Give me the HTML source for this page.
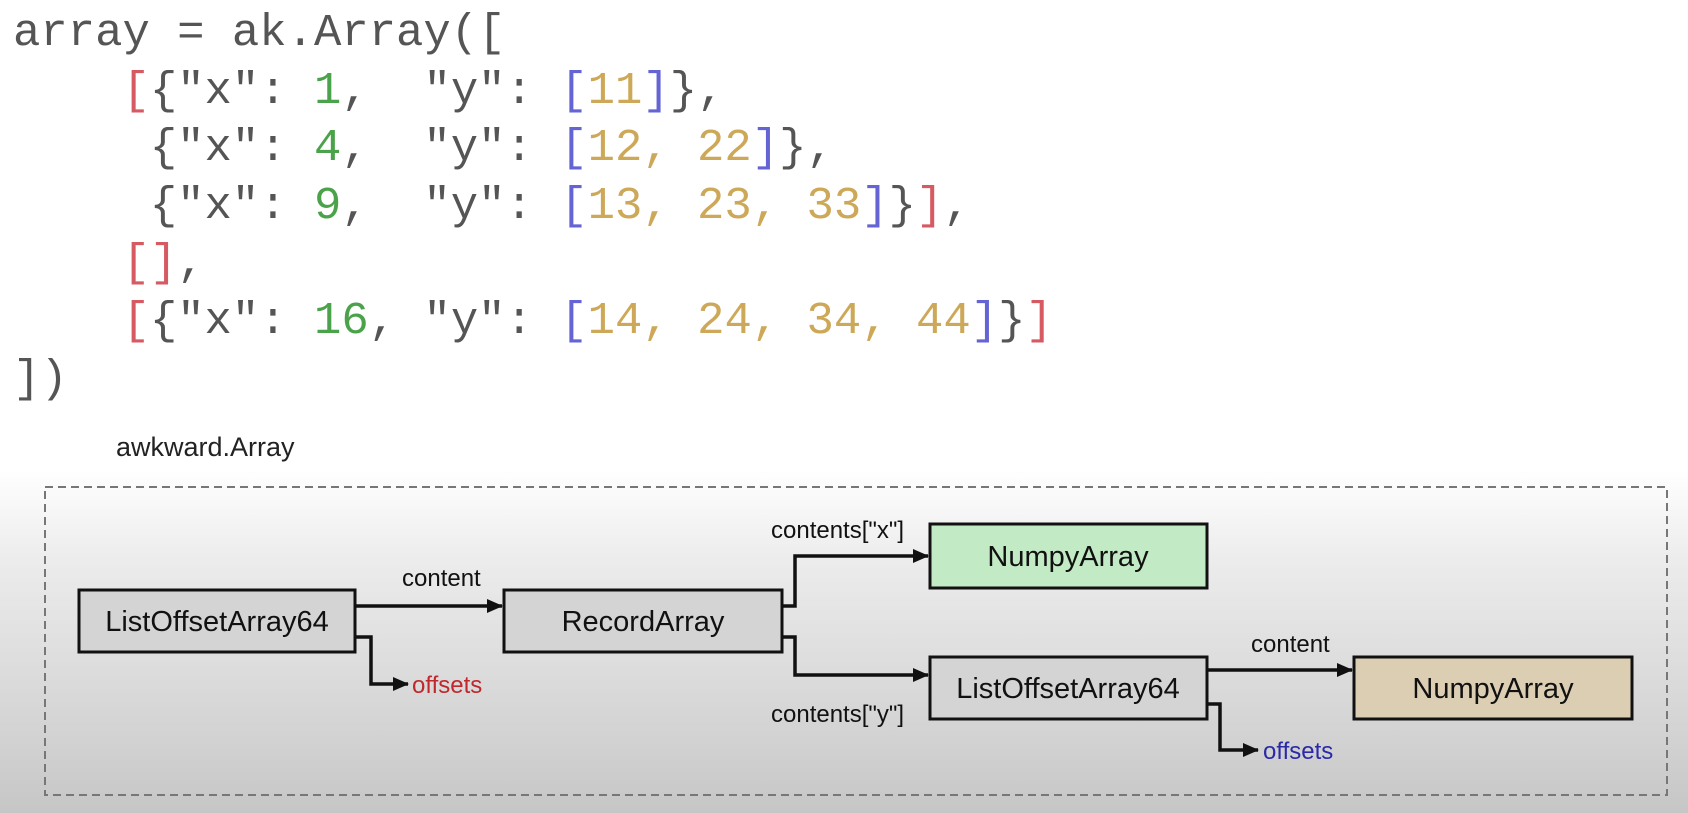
<!DOCTYPE html>
<html><head><meta charset="utf-8"><style>
html,body{margin:0;padding:0;}
body{width:1688px;height:813px;overflow:hidden;position:relative;
background:linear-gradient(to bottom,#fff 0px,#fff 470px,#ececec 560px,#d2d2d2 740px,#c6c6c6 813px);
font-family:"Liberation Sans",sans-serif;}
.code{position:absolute;left:13px;top:5px;margin:0;font-family:"Liberation Mono",monospace;font-size:45.6px;line-height:57.6px;color:#555;white-space:pre;}
.r{color:#d65a62}.g{color:#4aa24a}.b{color:#6464d4}.o{color:#cda858}
.lbl{position:absolute;font-size:27px;color:#222;}
</style></head><body>
<pre class="code">array = ak.Array([
    <span class="r">[</span>{"x": <span class="g">1</span>,  "y": <span class="b">[</span><span class="o">11</span><span class="b">]</span>},
     {"x": <span class="g">4</span>,  "y": <span class="b">[</span><span class="o">12, 22</span><span class="b">]</span>},
     {"x": <span class="g">9</span>,  "y": <span class="b">[</span><span class="o">13, 23, 33</span><span class="b">]</span>}<span class="r">]</span>,
    <span class="r">[]</span>,
    <span class="r">[</span>{"x": <span class="g">16</span>, "y": <span class="b">[</span><span class="o">14, 24, 34, 44</span><span class="b">]</span>}<span class="r">]</span>
])</pre>
<div class="lbl" style="left:116px;top:432px;">awkward.Array</div>
<svg width="1688" height="813" style="position:absolute;left:0;top:0" xmlns="http://www.w3.org/2000/svg">
<defs><marker id="ah" markerWidth="16" markerHeight="14" refX="15" refY="7" orient="auto" markerUnits="userSpaceOnUse"><path d="M0,0 L16,7 L0,14 Z" fill="#111"/></marker></defs>
<rect x="45" y="487" width="1622" height="308" fill="none" stroke="#777" stroke-width="2" stroke-dasharray="8,5"/>
<g stroke="#111" stroke-width="3">
<rect x="79" y="590" width="276" height="62" fill="#d4d4d4"/>
<rect x="504" y="590" width="278" height="62" fill="#d4d4d4"/>
<rect x="930" y="524" width="277" height="64" fill="#c2eac4"/>
<rect x="930" y="657" width="277" height="62" fill="#d4d4d4"/>
<rect x="1354" y="657" width="278" height="62" fill="#dcceb3"/>
</g>
<g stroke="#111" stroke-width="3.5" fill="none">
<path d="M355 606 H502" marker-end="url(#ah)"/>
<path d="M355 637 H371 V684 H408" marker-end="url(#ah)"/>
<path d="M782 606 H795 V556 H928" marker-end="url(#ah)"/>
<path d="M782 637 H795 V675 H928" marker-end="url(#ah)"/>
<path d="M1207 670 H1352" marker-end="url(#ah)"/>
<path d="M1207 704 H1220 V750 H1258" marker-end="url(#ah)"/>
</g>
<g font-family="Liberation Sans, sans-serif" font-size="29" fill="#111" text-anchor="middle">
<text x="217" y="631">ListOffsetArray64</text>
<text x="643" y="631">RecordArray</text>
<text x="1068" y="566">NumpyArray</text>
<text x="1068" y="698">ListOffsetArray64</text>
<text x="1493" y="698">NumpyArray</text>
</g>
<g font-family="Liberation Sans, sans-serif" font-size="24" fill="#111">
<text x="402" y="586">content</text>
<text x="1251" y="652">content</text>
<text x="771" y="538">contents["x"]</text>
<text x="771" y="722">contents["y"]</text>
<text x="412" y="693" fill="#c0282e">offsets</text>
<text x="1263" y="759" fill="#2a2aa8">offsets</text>
</g>
</svg>
</body></html>
